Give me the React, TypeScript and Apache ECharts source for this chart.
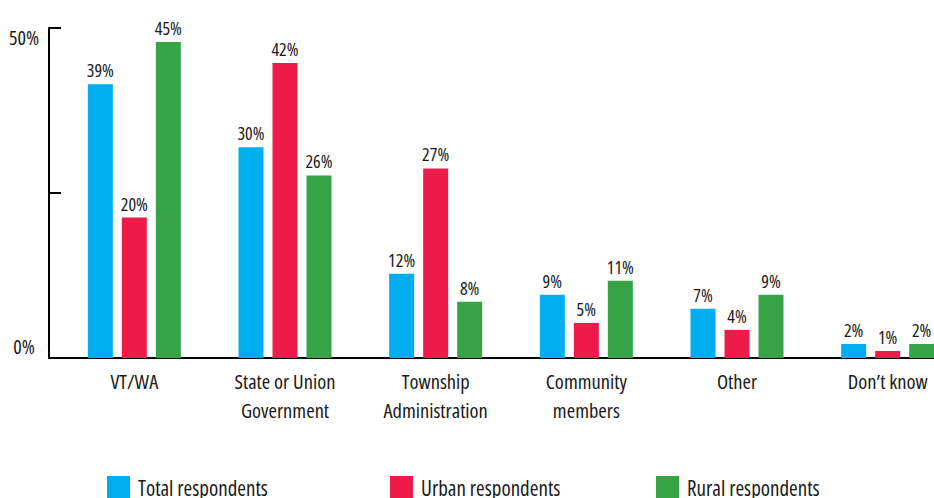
import React, { useEffect, useRef } from "react";
import * as echarts from "echarts";

const categories = [
  "VT/WA",
  "State or Union\nGovernment",
  "Township\nAdministration",
  "Community\nmembers",
  "Other",
  "Don’t know",
];
const seriesNames = ["Total respondents", "Urban respondents", "Rural respondents"];
const totalValues = [39, 30, 12, 9, 7, 2];
const urbanValues = [20, 42, 27, 5, 4, 1];
const ruralValues = [45, 26, 8, 11, 9, 2];
const yTicks = [0, 25, 50];
const yTickLabels = ["0%", "", "50%"];

const colors = ["#00AEEF", "#EE1A4A", "#37A347"];
const FONT = "'Open Sans', 'Roboto Condensed', sans-serif";
const TEXT = "#1a1a1a";
const WEIGHT = 500;

export default function App() {
  const ref = useRef<HTMLDivElement>(null);
  useEffect(() => {
    if (!ref.current) return;
    const chart = echarts.init(ref.current, undefined, { renderer: "svg" });
    const values = [totalValues, urbanValues, ruralValues];
    const legendLefts = [107, 390, 656];
    chart.setOption({
      animation: false,
      textStyle: { fontFamily: FONT, color: TEXT, fontWeight: WEIGHT },
      grid: {
        left: 59,
        top: 28,
        bottom: 140,
        right: -29,
        containLabel: false,
        outerBoundsMode: "none",
      },
      legend: seriesNames.map((n, i) => ({
        data: [n],
        left: legendLefts[i],
        top: 476,
        padding: 0,
        itemWidth: 23,
        itemHeight: 23,
        itemGap: 8,
        icon: "rect",
        textStyle: {
          fontFamily: FONT,
          fontSize: 21,
          fontWeight: WEIGHT,
          color: TEXT,
          padding: [4, 0, 0, 3],
        },
      })),
      xAxis: {
        type: "category",
        data: categories,
        axisLine: { show: true, lineStyle: { color: "#000", width: 2 } },
        axisTick: { show: false },
        axisLabel: {
          interval: 0,
          fontFamily: FONT,
          fontSize: 20.5,
          fontWeight: WEIGHT,
          lineHeight: 29,
          color: TEXT,
          margin: 8,
        },
      },
      yAxis: [
        {
          type: "value",
          min: 0,
          max: 47,
          show: false,
          splitLine: { show: false },
        },
        {
          type: "value",
          min: 0,
          max: 50,
          interval: 25,
          position: "left",
          offset: 10,
          splitLine: { show: false },
          axisLine: { show: true, lineStyle: { color: "#000", width: 2 } },
          axisTick: { show: true, inside: true, length: 12, lineStyle: { color: "#000", width: 2 } },
          axisLabel: {
            margin: 25,
            align: "center",
            formatter: (v: number) => {
              const idx = yTicks.indexOf(v);
              const lab = idx >= 0 ? yTickLabels[idx] : "";
              if (!lab) return "";
              return v === 0 ? `{b|${lab}}` : `{t|${lab}}`;
            },
            rich: {
              t: { fontFamily: FONT, fontSize: 20, fontWeight: WEIGHT, color: TEXT, padding: [18, 0, 0, 0] },
              b: { fontFamily: FONT, fontSize: 20, fontWeight: WEIGHT, color: TEXT, padding: [0, 0, 24, 0] },
            },
          },
        },
      ],
      graphic: [
        {
          type: "line",
          shape: { x1: 48, y1: 358, x2: 60, y2: 358 },
          style: { stroke: "#000", lineWidth: 2 },
        },
      ],
      series: seriesNames.map((n, i) => ({
        name: n,
        type: "bar",
        yAxisIndex: 0,
        data: values[i],
        barWidth: 25,
        barGap: "36%",
        itemStyle: { color: colors[i] },
        label: {
          show: true,
          position: "top",
          distance: 5,
          formatter: "{c}%",
          fontFamily: FONT,
          fontSize: 18,
          fontWeight: WEIGHT,
          color: TEXT,
        },
      })),
    });
    return () => chart.dispose();
  }, []);
  return (
    <>
      <style>{`#chart-root text { font-stretch: 75% !important; }`}</style>
      <div
        id="chart-root"
        ref={ref}
        style={{ position: "fixed", left: 0, top: 0, width: 934, height: 498, background: "#fff" }}
      />
    </>
  );
}
